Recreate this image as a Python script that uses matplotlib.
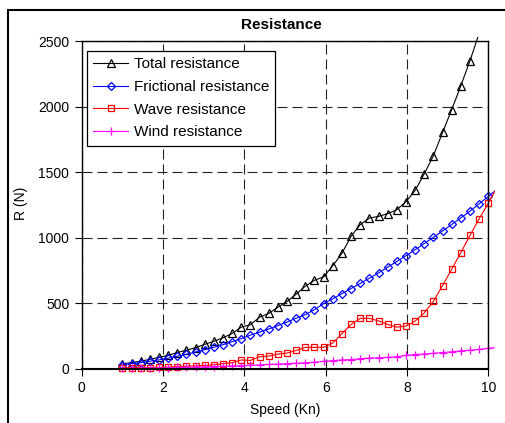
import matplotlib
matplotlib.use("Agg")
import matplotlib.pyplot as plt
from matplotlib.patches import Rectangle

plt.rcParams['font.family'] = ['Liberation Sans', 'DejaVu Sans']

# speed in knots, 0.225 kn steps from 1 to 10, plus one point past the axis
speed = [1 + 0.225 * i for i in range(42)]

total = [35, 45, 56, 70, 85, 100, 122, 140, 159, 185, 208, 235, 268, 316, 335,
         392, 421, 468, 512, 568, 629, 674, 700, 785, 880, 1010, 1099, 1149, 1162,
         1183, 1213, 1274, 1360, 1487, 1625, 1803, 1977, 2160, 2351, 2560, 2780, 3000]
frictional = [30, 38, 45, 56, 66, 79, 94, 109, 126, 144, 162, 182, 205, 228, 255,
              278, 302, 328, 355, 384, 412, 450, 495, 532, 572, 611, 650, 690, 730,
              774, 818, 862, 907, 954, 1002, 1050, 1100, 1150, 1202, 1258, 1314, 1372]
wave = [5, 6, 7, 7, 9, 10, 14, 18, 20, 24, 28, 38, 45, 65, 62, 90, 95, 110, 118,
        138, 161, 162, 162, 195, 266, 337, 383, 383, 364, 337, 316, 324, 362, 425,
        512, 634, 758, 885, 1017, 1144, 1262, 1390]
wind = [1, 2, 3, 4, 5, 6, 8, 9, 11, 13, 15, 17, 19, 22, 25, 28, 31, 34, 37, 40,
        44, 48, 55, 60, 66, 68, 75, 80, 82, 85, 90, 100, 107, 110, 116, 122, 128,
        135, 140, 146, 154, 160]

fig = plt.figure(figsize=(5.06, 4.23), dpi=100)
ax = fig.add_axes([0.1615, 0.1288, 0.8035, 0.7738])

def shown(ys):
    # markers only for points inside the plot area
    return [i for i, (x, y) in enumerate(zip(speed, ys)) if x <= 10.01 and y <= 2500]

series = [
    (total, 'black', '^', 5.5, 'Total resistance'),
    (frictional, '#0000FF', 'D', 4.0, 'Frictional resistance'),
    (wave, '#FF0000', 's', 4.5, 'Wave resistance'),
    (wind, '#FF00FF', '+', 5.8, 'Wind resistance'),
]
clip = Rectangle((-0.01, -0.01), 1.027, 1.022, transform=ax.transAxes)
for ys, c, m, ms, lab in series:
    line, = ax.plot(speed, ys, color=c, lw=0.8, marker=m, ms=ms, mfc='none',
                    mec=c, mew=0.9, markevery=shown(ys), label=lab)
    line.set_clip_path(clip)

ax.set_xlim(0, 10)
ax.set_ylim(0, 2500)
ax.set_xticks([0, 2, 4, 6, 8, 10])
ax.set_yticks([0, 500, 1000, 1500, 2000, 2500])
ax.tick_params(direction='out', length=5, width=0.8, pad=4, labelsize=10,
               top=False, right=False)
ax.grid(True, color='#222222', lw=0.8, linestyle=(0, (9, 4.5)))
for s in ax.spines.values():
    s.set_linewidth(1.0)
ax.spines['bottom'].set_linewidth(1.5)

ax.set_xlabel('Speed (Kn)', fontsize=10, labelpad=6)
fig.text(21 / 506, 1 - 203 / 423, 'R (N)', rotation=90, ha='center', va='center',
         fontsize=10)
fig.text(281 / 506, 1 - 25 / 423, 'Resistance', ha='center', va='center',
         fontsize=11, fontweight='bold')

leg = ax.legend(loc='upper left', bbox_to_anchor=(0.0123, 0.970), borderaxespad=0,
                fontsize=11, handlelength=2.3, handletextpad=0.35, labelspacing=0.56,
                borderpad=0.42, fancybox=False, framealpha=1, edgecolor='black')
leg.get_frame().set_linewidth(0.9)

# chart area border
fig.add_artist(Rectangle((8 / 506, -0.1), 1.0, 1.1 - 10 / 423, transform=fig.transFigure,
                         fill=False, lw=1.5, edgecolor='black'))

fig.savefig('out.png', dpi=100)
